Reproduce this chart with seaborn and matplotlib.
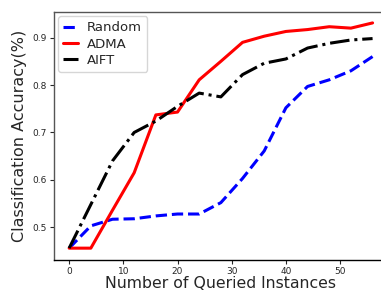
import matplotlib
matplotlib.use('Agg')
import matplotlib.pyplot as plt
import seaborn as sns
import pandas as pd

# queried instances (x) and accuracy for each method
queried = [0, 4, 8, 12, 16, 20, 24, 28, 32, 36, 40, 44, 48, 52, 56]
random_acc = [0.456, 0.503, 0.517, 0.518, 0.524, 0.528, 0.528, 0.552, 0.603, 0.661, 0.752, 0.797, 0.811, 0.830, 0.860]
adma_acc = [0.456, 0.456, 0.536, 0.615, 0.737, 0.743, 0.811, 0.850, 0.890, 0.903, 0.913, 0.917, 0.923, 0.920, 0.931]
aift_acc = [0.456, 0.548, 0.640, 0.700, 0.724, 0.755, 0.783, 0.775, 0.822, 0.846, 0.855, 0.878, 0.888, 0.895, 0.898]

methods = ['Random', 'ADMA', 'AIFT']
colors = ['blue', 'red', 'black']
styles = ['--', '-', '-.']

df = pd.DataFrame({'queried': queried, 'Random': random_acc, 'ADMA': adma_acc, 'AIFT': aift_acc})

sns.set_style('white')
plt.rcParams['font.family'] = ['DejaVu Sans']

fig = plt.figure(figsize=(3.81, 2.93), dpi=100)
ax = fig.add_axes([0.1417, 0.1126, 0.876, 0.8464])

for name, c, ls in zip(methods, colors, styles):
    sns.lineplot(data=df, x='queried', y=name, ax=ax, color=c, linestyle=ls,
                 linewidth=2.2, label=name)

ax.set_xlim(-2.8, 58.8)
ax.set_ylim(0.431, 0.954)
ax.set_xticks([0, 10, 20, 30, 40, 50])
ax.set_yticks([0.5, 0.6, 0.7, 0.8, 0.9])
ax.tick_params(axis='both', which='major', labelsize=6.5, length=3, width=0.8,
               direction='out', bottom=True, left=True, pad=2)
ax.set_xlabel('Number of Queried Instances', fontsize=11.3, labelpad=0)
ax.set_ylabel('Classification Accuracy(%)', fontsize=11.5, labelpad=4)

for side in ['left', 'top', 'right']:
    ax.spines[side].set_color('#555555')
ax.spines['bottom'].set_color('black')
for s in ax.spines.values():
    s.set_linewidth(1.0)

ax.legend(loc='upper left', fontsize=9.5, frameon=True, handlelength=1.15,
          handletextpad=0.65, borderaxespad=0.3, labelspacing=0.25)

fig.savefig('out.png', dpi=100)
